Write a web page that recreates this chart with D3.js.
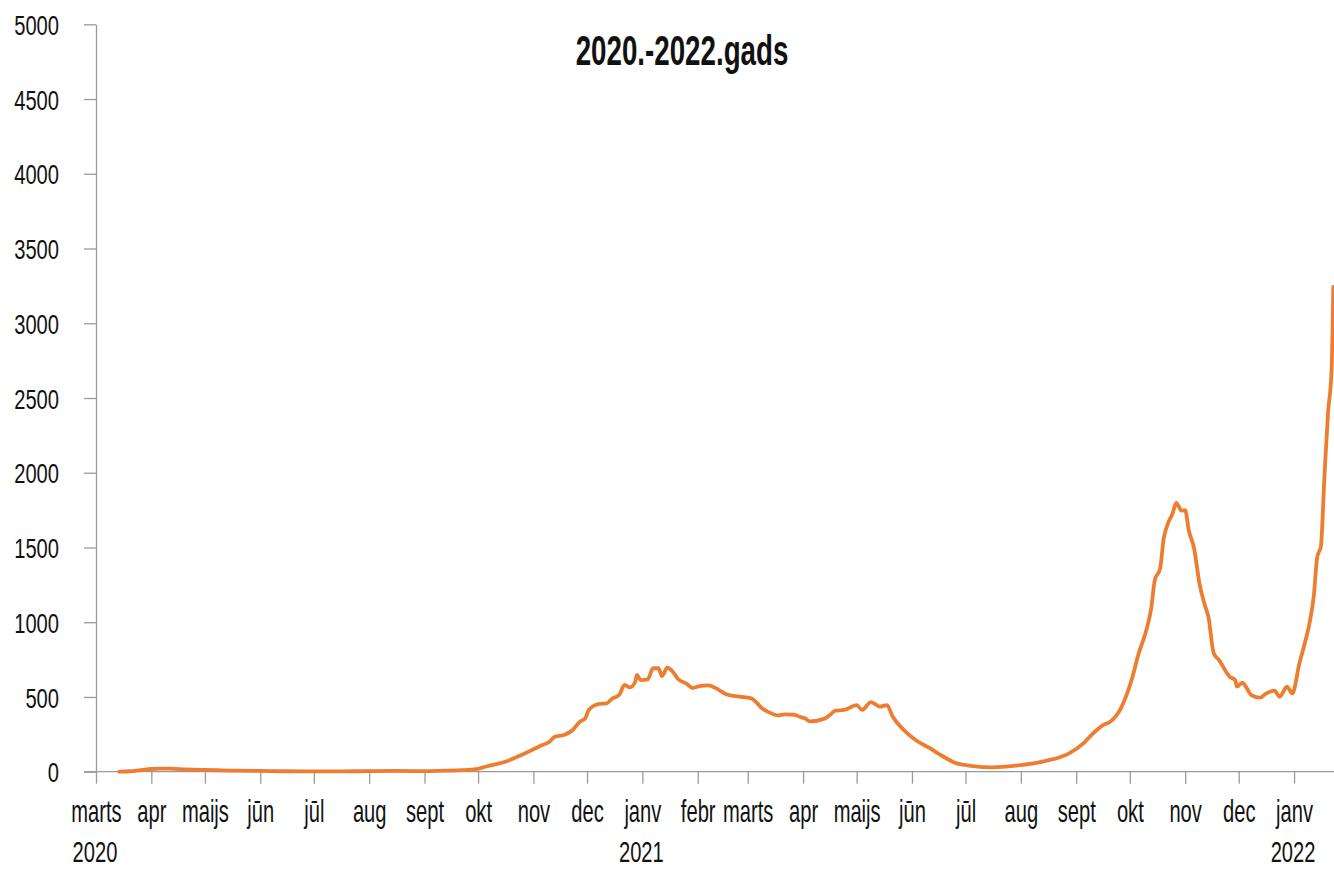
<!DOCTYPE html>
<html>
<head>
<meta charset="utf-8">
<script src="https://cdn.jsdelivr.net/npm/d3@7"></script>
<style>
  html, body { margin: 0; padding: 0; background: #fff; }
  svg text { font-family: "Liberation Sans", Arial, sans-serif; fill: #111; }
</style>
</head>
<body>
<svg id="chart" width="1334" height="869"></svg>
<script>
// ---- data ----
const title = "2020.-2022.gads";
const dates = [
  "2020-03-14","2020-03-20","2020-03-25","2020-04-01","2020-04-06","2020-04-12","2020-04-20","2020-04-30",
  "2020-05-10","2020-05-20","2020-06-01","2020-06-15","2020-07-01","2020-07-15","2020-08-01","2020-08-15",
  "2020-09-01","2020-09-12","2020-09-22","2020-09-30","2020-10-05","2020-10-11","2020-10-17","2020-10-23",
  "2020-10-28","2020-11-05","2020-11-10","2020-11-13","2020-11-18","2020-11-23","2020-11-27","2020-11-30",
  "2020-12-02","2020-12-08","2020-12-12","2020-12-15","2020-12-19","2020-12-22","2020-12-25","2020-12-28",
  "2020-12-29","2020-12-31","2021-01-04","2021-01-07","2021-01-10","2021-01-12","2021-01-15","2021-01-18",
  "2021-01-21","2021-01-26","2021-01-29","2021-02-02","2021-02-07","2021-02-13","2021-02-17","2021-02-24",
  "2021-03-03","2021-03-06","2021-03-09","2021-03-13","2021-03-18","2021-03-22","2021-03-27","2021-03-30",
  "2021-04-02","2021-04-05","2021-04-13","2021-04-16","2021-04-19","2021-04-24","2021-05-01","2021-05-04",
  "2021-05-09","2021-05-14","2021-05-18","2021-05-21","2021-05-27","2021-06-03","2021-06-11","2021-06-18",
  "2021-06-22","2021-06-25","2021-07-05","2021-07-16","2021-07-29","2021-08-15","2021-08-28","2021-09-05",
  "2021-09-10","2021-09-16","2021-09-20","2021-09-26","2021-10-02","2021-10-06","2021-10-10","2021-10-13",
  "2021-10-15","2021-10-18","2021-10-20","2021-10-22","2021-10-25","2021-10-27","2021-10-30","2021-11-01",
  "2021-11-03","2021-11-06","2021-11-09","2021-11-12","2021-11-14","2021-11-17","2021-11-20","2021-11-26",
  "2021-11-29","2021-11-30","2021-12-03","2021-12-05","2021-12-08","2021-12-13","2021-12-16","2021-12-21",
  "2021-12-24","2021-12-28","2021-12-31","2022-01-04","2022-01-07","2022-01-10","2022-01-12","2022-01-14",
  "2022-01-16","2022-01-18","2022-01-20","2022-01-22","2022-01-23"
];
const values = [
  0,3,9,18,21,20,16,12,
  9,7,5,3,2,2,4,5,
  4,7,10,17,33,51,70,100,
  127,174,201,234,245,279,334,357,
  413,453,457,488,513,580,564,602,
  647,613,618,692,692,640,696,669,
  620,587,560,573,578,546,518,502,
  491,462,424,397,377,384,381,368,
  357,337,355,379,408,413,446,413,
  466,435,446,373,284,212,157,105,
  78,60,38,29,40,72,123,190,
  252,312,334,424,613,792,936,1093,
  1282,1360,1561,1650,1728,1799,1746,1750,
  1617,1494,1260,1115,1037,792,747,635,
  613,569,595,569,513,495,520,542,
  502,569,524,725,859,1015,1171,1438,
  1505,1973,2397,2687,3244
];
const yTicks = [0,500,1000,1500,2000,2500,3000,3500,4000,4500,5000];
const monthNames = ["janv","febr","marts","apr","maijs","jūn","jūl","aug","sept","okt","nov","dec"];
const yearTickDates = ["2020-03-01","2021-01-01","2022-01-01"];
const yearLabels = ["2020","2021","2022"];

// ---- layout ----
const parse = d3.utcParse("%Y-%m-%d");
const svg = d3.select("#chart");
const x0 = 96, yTop = 24.3, yBottom = 771.7;
const startDate = parse("2020-03-01"), endDate = parse("2022-01-24");
const x = d3.scaleUtc().domain([startDate, endDate]).range([x0, x0 + 694 * 1.7855]);
const y = d3.scaleLinear().domain([0, 5000]).range([yBottom, yTop]);

const axisColor = "#9a9a9a";
const ySx = 0.72, xSx = 0.65, tSx = 0.66;

// x axis baseline extends left of y-axis
svg.append("line")
  .attr("x1", 84).attr("x2", 1334)
  .attr("y1", y(0)).attr("y2", y(0))
  .attr("stroke", axisColor).attr("stroke-width", 1.3);

// y axis
const yAxis = d3.axisLeft(y).tickValues(yTicks).tickSize(12).tickSizeOuter(0).tickPadding(25).tickFormat(d3.format("d"));
const gy = svg.append("g").attr("transform", `translate(${x0},0)`).call(yAxis);
gy.select(".domain").attr("stroke", axisColor).attr("stroke-width", 1.3);
gy.selectAll(".tick line").attr("stroke", axisColor).attr("stroke-width", 1.3);
gy.selectAll(".tick text")
  .attr("font-size", 28).attr("font-family", null).attr("dy", "0.36em")
  .each(function () {
    const t = d3.select(this);
    t.attr("x", +t.attr("x") / ySx).attr("transform", `scale(${ySx},1)`);
  });

// x axis
const monthTicks = d3.utcMonth.range(startDate, endDate);
const xAxis = d3.axisBottom(x).tickValues(monthTicks).tickSize(12).tickSizeOuter(0)
  .tickPadding(0).tickFormat(d => monthNames[d.getUTCMonth()]);
const gx = svg.append("g").attr("transform", `translate(0,${y(0)})`).call(xAxis);
gx.select(".domain").remove();
gx.selectAll(".tick line").attr("stroke", axisColor).attr("stroke-width", 1.3);
gx.selectAll(".tick text").attr("font-size", 31).attr("font-family", null)
  .attr("y", 50).attr("dy", 0).attr("transform", `scale(${xSx},1)`);

// year labels
svg.append("g").selectAll("text")
  .data(yearTickDates.map((d, i) => ({ date: parse(d), label: yearLabels[i] })))
  .join("text")
  .attr("transform", d => `translate(${x(d.date) - 1},862) scale(${xSx * 31 / 30},1)`)
  .attr("text-anchor", "middle")
  .attr("font-size", 30)
  .text(d => d.label);

// title
svg.append("text")
  .attr("transform", `translate(682,65) scale(${tSx},1)`)
  .attr("text-anchor", "middle")
  .attr("font-size", 42)
  .attr("font-weight", "bold")
  .text(title);

// line
const data = dates.map((d, i) => ({ date: parse(d), value: values[i] }));
const line = d3.line().x(d => x(d.date)).y(d => y(d.value)).curve(d3.curveMonotoneX);
svg.append("path")
  .datum(data)
  .attr("fill", "none")
  .attr("stroke", "#ED7D31")
  .attr("stroke-width", 3.8)
  .attr("stroke-linejoin", "round")
  .attr("stroke-linecap", "round")
  .attr("d", line);
</script>
</body>
</html>
